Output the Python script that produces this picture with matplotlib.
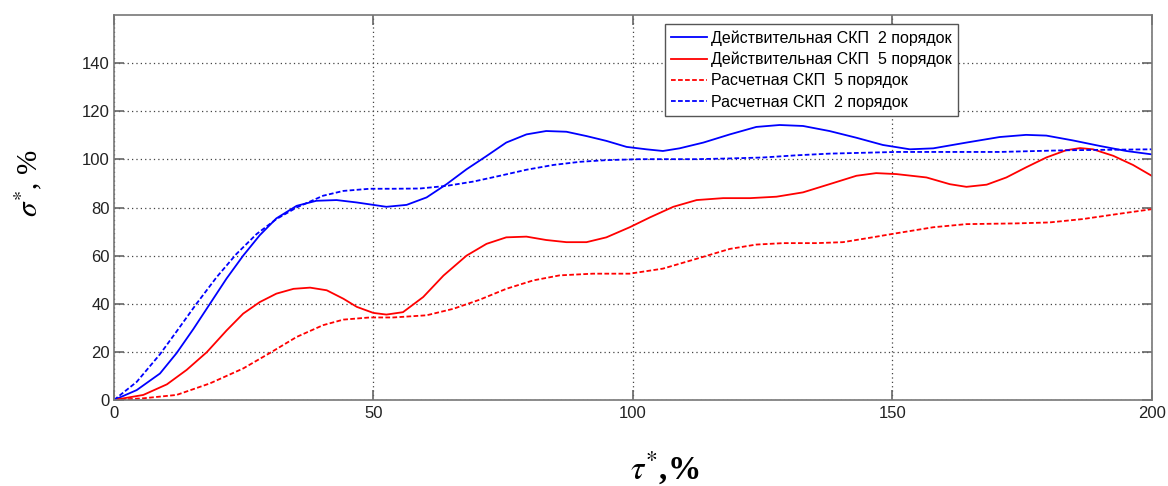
import matplotlib
matplotlib.use("Agg")
import matplotlib.pyplot as plt

# ---- data ----
x_b_solid = [0, 4.37, 8.86, 12.07, 15.3, 18.5, 21.7, 24.9, 28.1, 31.3, 35.2, 39.0, 42.9,
             46.8, 49.97, 52.5, 56.4, 60.25, 64.1, 67.95, 71.8, 75.6, 79.5, 83.3, 87.2,
             91.07, 94.9, 98.8, 102.6, 105.8, 109.0, 113.6, 118.7, 123.8, 128.3, 132.8,
             137.9, 143.1, 148.2, 153.4, 157.9, 164.3, 170.7, 175.8, 179.7, 184.8, 190.0,
             195.1, 200]
y_b_solid = [0, 4.1, 11, 19.5, 29.5, 40, 50.5, 60, 68.5, 75.5, 80.7, 82.8, 83.1,
             82.1, 81.1, 80.3, 81.1, 84.2, 89.7, 95.9, 101.4, 107.0, 110.4, 111.8, 111.5,
             109.7, 107.7, 105.2, 104.2, 103.5, 104.6, 107.0, 110.4, 113.5, 114.3, 113.9,
             111.8, 109.0, 106.0, 104.2, 104.6, 107.0, 109.3, 110.2, 109.9, 107.9, 105.6,
             103.5, 102.1]

x_b_dash = [0, 4.37, 8.86, 12.07, 15.9, 19.8, 23.6, 27.5, 31.3, 35.2, 40.3, 44.2, 49.3,
            53.8, 58.96, 64.1, 69.3, 74.4, 79.5, 84.7, 89.8, 94.9, 101.4, 112.3, 118.7,
            125.1, 131.5, 137.9, 150.7, 170.7, 183.5, 200]
y_b_dash = [0, 7.5, 19.0, 28.5, 40.0, 51.1, 60.7, 69.0, 75.2, 80.0, 84.9, 86.9, 87.8,
            87.8, 87.9, 89.0, 90.8, 93.2, 95.7, 97.7, 99.0, 99.7, 100.1, 100.1, 100.4,
            100.8, 101.7, 102.4, 103.1, 103.1, 103.8, 104.2]

x_r_solid = [0, 5.65, 10.2, 14.0, 17.9, 21.7, 24.9, 28.1, 31.3, 34.6, 37.8, 41.0, 44.2,
             46.8, 49.97, 52.5, 55.7, 59.6, 63.5, 67.95, 71.8, 75.6, 79.5, 83.3, 87.2,
             91.07, 94.9, 99.4, 103.3, 107.8, 112.3, 117.4, 122.6, 127.7, 132.8, 137.9,
             143.1, 146.9, 150.8, 156.6, 161.1, 164.3, 168.2, 172.0, 175.8, 179.7, 183.5,
             186.2, 188.7, 192.6, 196.4, 200]
y_r_solid = [0, 2.1, 6.5, 12.5, 19.9, 28.9, 35.9, 40.7, 44.2, 46.2, 46.7, 45.6, 42.1,
             38.7, 36.2, 35.5, 36.5, 42.8, 51.7, 60.0, 64.9, 67.6, 67.9, 66.5, 65.6,
             65.6, 67.6, 71.8, 75.9, 80.3, 83.1, 83.9, 83.9, 84.5, 86.3, 89.7,
             93.2, 94.3, 93.9, 92.5, 89.7, 88.6, 89.5, 92.5, 96.7, 100.8, 103.8,
             104.7, 104.2, 101.5, 97.7, 93.2]

x_r_dash = [0, 5.65, 12.07, 18.5, 24.9, 30.1, 35.2, 40.3, 44.2, 49.3, 53.8, 60.25, 65.4,
            70.5, 75.6, 80.8, 85.9, 92.3, 99.4, 105.8, 112.3, 118.7, 123.8, 129.0, 135.4,
            140.5, 145.6, 150.8, 157.9, 164.3, 173.9, 180.3, 186.7, 193.1, 200]
y_r_dash = [0, 0.7, 2.1, 6.9, 13.1, 19.6, 26.2, 31.1, 33.4, 34.3, 34.3, 35.2, 37.9,
            41.7, 46.2, 49.7, 51.8, 52.5, 52.5, 54.6, 58.7, 62.8, 64.6, 65.2, 65.2,
            65.6, 67.4, 69.3, 71.8, 73.1, 73.4, 73.8, 75.2, 77.2, 79.3]

labels = ["Действительная СКП  2 порядок",
          "Действительная СКП  5 порядок",
          "Расчетная СКП  5 порядок",
          "Расчетная СКП  2 порядок"]
x_ticks = [0, 50, 100, 150, 200]
y_ticks = [0, 20, 40, 60, 80, 100, 120, 140]

# ---- plotting ----
plt.rcParams['font.family'] = ['Liberation Sans', 'DejaVu Sans']
plt.rcParams['mathtext.fontset'] = 'stix'

fig = plt.figure(figsize=(11.68, 4.86), dpi=100)
ax = fig.add_axes([0.0976, 0.177, 0.8884, 0.792])

dash = (0, (2.6, 1.3))
ax.plot(x_b_solid, y_b_solid, color='#0000ff', lw=1.3, label=labels[0])
ax.plot(x_r_solid, y_r_solid, color='#ff0000', lw=1.3, label=labels[1])
ax.plot(x_r_dash, y_r_dash, color='#ff0000', lw=1.3, ls=dash, label=labels[2])
ax.plot(x_b_dash, y_b_dash, color='#0000ff', lw=1.3, ls=dash, label=labels[3])

ax.set_xlim(0, 200)
ax.set_ylim(0, 160)
ax.set_xticks(x_ticks)
ax.set_yticks(y_ticks)
ax.tick_params(direction='in', top=True, right=True, labelsize=12, length=7,
               width=1.2, color='#666666', labelcolor='#222222')
ax.tick_params(axis='x', pad=4)
ax.tick_params(axis='y', pad=3)
ax.grid(True, ls=(0, (1, 2.5)), color='#444444', lw=0.9)
for s in ax.spines.values():
    s.set_color('#777777')
    s.set_linewidth(1.2)

fig.text(0.024, 0.623, r'$\sigma^{*}$, %', fontsize=21, family='Liberation Serif',
         rotation=90, ha='center', va='center')
fig.text(0.569, 0.014, r'$\tau^{*}$,%', fontsize=24, family='Liberation Serif',
         ha='center', va='baseline', weight='bold')

leg = ax.legend(loc='upper left', bbox_to_anchor=(0.531, 0.977), fontsize=11.5,
                fancybox=False, framealpha=1, edgecolor='#555555',
                handlelength=2.2, handletextpad=0.3, borderpad=0.4,
                labelspacing=0.38, borderaxespad=0)
leg.get_frame().set_linewidth(1.0)

fig.savefig('out.png', dpi=100)
